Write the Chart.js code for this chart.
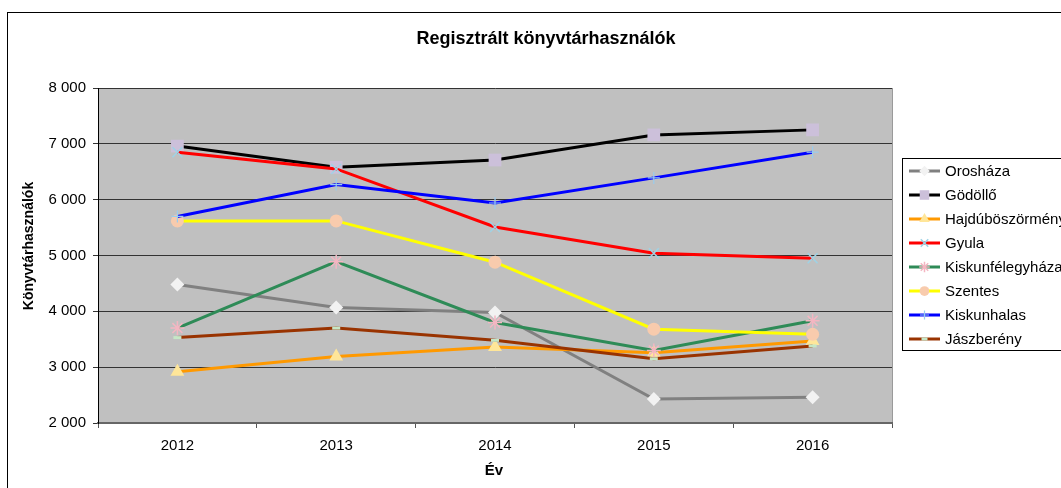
<!DOCTYPE html>
<html>
<head>
<meta charset="utf-8">
<script src="https://cdn.jsdelivr.net/npm/chart.js@4.4.1/dist/chart.umd.min.js"></script>
<style>
html,body{margin:0;padding:0;background:#fff;}
canvas{display:block;}
</style>
</head>
<body>
<canvas id="c" width="1061" height="488"></canvas>
<script>
// ---- data ----
const years = ['2012', '2013', '2014', '2015', '2016'];
const seriesNames = ['Orosháza', 'Gödöllő', 'Hajdúböszörmény', 'Gyula', 'Kiskunfélegyháza', 'Szentes', 'Kiskunhalas', 'Jászberény'];
const oroshaza = [4480, 4070, 3980, 2430, 2460];
const godollo = [6960, 6580, 6710, 7160, 7250];
const hajduboszormeny = [2920, 3190, 3360, 3260, 3470];
const gyula = [6850, 6550, 5510, 5040, 4950];
const kiskunfelegyhaza = [3700, 4890, 3800, 3300, 3830];
const szentes = [5620, 5620, 4880, 3680, 3590];
const kiskunhalas = [5700, 6270, 5940, 6390, 6850];
const jaszbereny = [3530, 3700, 3480, 3150, 3380];
const yTicks = [2000, 3000, 4000, 5000, 6000, 7000, 8000];
const yTickLabels = ['2 000', '3 000', '4 000', '5 000', '6 000', '7 000', '8 000'];
const chartTitle = 'Regisztrált könyvtárhasználók';
const xTitle = 'Év';
const yTitle = 'Könyvtárhasználók';

// ---- styles ----
const FONT = '"Liberation Sans", Arial, sans-serif';
const values = [oroshaza, godollo, hajduboszormeny, gyula, kiskunfelegyhaza, szentes, kiskunhalas, jaszbereny];
const styles = [
  {line:'#808080', mark:'#F2F2F2', ps:'rectRot', r:7, bw:0},
  {line:'#000000', mark:'#CCC0DA', ps:'rect', r:9, bw:0},
  {line:'#FF9900', mark:'#FFE699', ps:'triangle', r:8, bw:0},
  {line:'#FF0000', mark:'#9ED3E6', ps:'crossRot', r:7, bw:1.5},
  {line:'#2E8B57', mark:'#F4B6C2', ps:'star', r:7, bw:1.5},
  {line:'#FFFF00', mark:'#F8CBAD', ps:'circle', r:6.5, bw:0},
  {line:'#0000FF', mark:'#99CCEE', ps:'cross', r:6, bw:1.2},
  {line:'#993300', mark:'#C6E7C6', ps:'line', r:4, bw:3}
];

const datasets = values.map((v, i) => ({
  label: seriesNames[i],
  data: v,
  borderColor: styles[i].line,
  backgroundColor: styles[i].line,
  borderWidth: 3,
  tension: 0,
  pointStyle: styles[i].ps,
  pointRadius: styles[i].r,
  pointBackgroundColor: styles[i].mark,
  pointBorderColor: styles[i].mark,
  pointBorderWidth: styles[i].bw,
  order: values.length - i
}));

const decor = {
  id: 'decor',
  beforeDraw(chart) {
    const c = chart.ctx, a = chart.chartArea;
    c.save();
    c.fillStyle = '#fff';
    c.fillRect(0, 0, chart.width, chart.height);
    c.fillStyle = '#C0C0C0';
    c.fillRect(a.left, a.top, a.right - a.left, a.bottom - a.top);
    c.strokeStyle = '#000';
    c.lineWidth = 1;
    c.strokeRect(7.5, 12.5, 1200, 600);
    c.strokeStyle = '#9a9a9a';
    c.beginPath();
    c.moveTo(Math.round(a.right) + 0.5, a.top);
    c.lineTo(Math.round(a.right) + 0.5, a.bottom);
    c.stroke();
    // titles
    c.fillStyle = '#000';
    c.textAlign = 'center';
    c.textBaseline = 'middle';
    c.font = 'bold 18px ' + FONT;
    c.fillText(chartTitle, 546, 39);
    c.font = 'bold 15px ' + FONT;
    c.fillText(xTitle, 494, 471);
    c.save();
    c.translate(29, 246);
    c.rotate(-Math.PI / 2);
    c.font = 'bold 14px ' + FONT;
    c.fillText(yTitle, 0, 0);
    c.restore();
    c.restore();
  },
  afterDraw(chart) {
    const c = chart.ctx;
    c.save();
    c.fillStyle = '#fff';
    c.fillRect(902.5, 158.5, 300, 192);
    c.strokeStyle = '#000';
    c.lineWidth = 1;
    c.strokeRect(902.5, 158.5, 300, 192);
    chart.data.datasets.forEach((ds, i) => {
      const y = 171 + 24 * i;
      c.strokeStyle = ds.borderColor;
      c.lineWidth = 3;
      c.beginPath();
      c.moveTo(909, y);
      c.lineTo(940, y);
      c.stroke();
      const st = styles[i];
      c.fillStyle = st.mark;
      c.strokeStyle = st.mark;
      c.lineWidth = st.bw;
      if (Chart.helpers && Chart.helpers.drawPoint) {
        Chart.helpers.drawPoint(c, {pointStyle: st.ps, radius: st.r * 0.75, rotation: 0, borderWidth: st.bw}, 924.5, y);
      }
      c.fillStyle = '#000';
      c.font = '15px ' + FONT;
      c.textAlign = 'left';
      c.textBaseline = 'middle';
      c.fillText(ds.label, 945, y + 1);
    });
    c.restore();
  }
};

new Chart(document.getElementById('c'), {
  type: 'line',
  data: {labels: years, datasets: datasets},
  plugins: [decor],
  options: {
    responsive: false,
    animation: false,
    devicePixelRatio: 1,
    layout: {padding: {left: 0, top: 88, right: 169, bottom: 0}},
    plugins: {legend: {display: false}, tooltip: {enabled: false}, title: {display: false}},
    scales: {
      x: {
        offset: true,
        grid: {offset: true, drawOnChartArea: false, tickLength: 5, color: '#555', lineWidth: 1},
        border: {color: '#666', width: 2},
        ticks: {font: {size: 15, family: FONT}, color: '#000', padding: 9},
        afterFit(a) { a.height = 65; }
      },
      y: {
        min: yTicks[0],
        max: yTicks[yTicks.length - 1],
        afterBuildTicks(a) { a.ticks = yTicks.map(v => ({value: v})); },
        ticks: {
          font: {size: 15, family: FONT}, color: '#000', padding: 7,
          callback: (v) => yTickLabels[yTicks.indexOf(v)]
        },
        grid: {color: '#333', tickLength: 5, lineWidth: 1},
        border: {color: '#000', width: 1},
        afterFit(a) { a.width = 98; }
      }
    }
  }
});
</script>
</body>
</html>
